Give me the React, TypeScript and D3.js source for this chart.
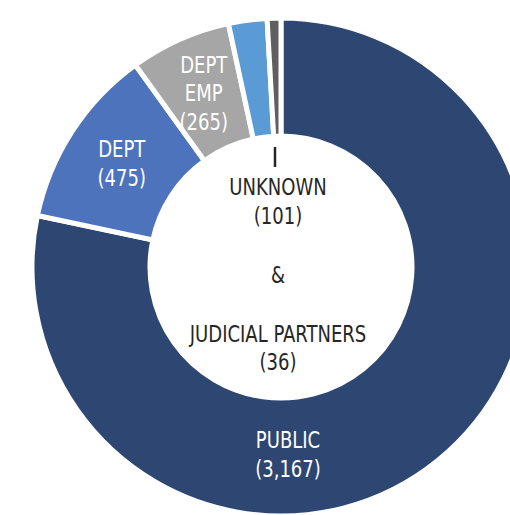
import React from "react";
import * as d3 from "d3";

const categories = ["PUBLIC", "DEPT", "DEPT EMP", "UNKNOWN", "JUDICIAL PARTNERS"];
const values = [3167, 475, 265, 101, 36];
const colors = ["#2E4772", "#4E73BD", "#A6A6A6", "#5B9BD5", "#5F5F5F"];

const W = 510;
const H = 515;
const cx = 281;
const cy = 267;
const outerR = 249;
const innerR = 131;
const labelR = 190;

const FONT = "'DejaVu Sans Condensed', 'DejaVu Sans', sans-serif";
const FS = 23.3;
const SX = 0.86;
const fmt = d3.format(",");

function Lines({ x, ys, lines, fill }: { x: number; ys: number[]; lines: string[]; fill: string }) {
  return (
    <g>
      {lines.map((t, k) => (
        <text
          key={k}
          transform={`translate(${x},${ys[k]}) scale(${SX},1)`}
          textAnchor="middle"
          fill={fill}
          fontSize={FS}
          fontStretch="condensed"
          fontFamily={FONT}
        >
          {t}
        </text>
      ))}
    </g>
  );
}

export default function App() {
  const pie = d3.pie<number>().sort(null).value((d) => d)(values);
  const arc = d3.arc<d3.PieArcDatum<number>>().innerRadius(innerR).outerRadius(outerR);
  const labelArc = d3.arc<d3.PieArcDatum<number>>().innerRadius(labelR).outerRadius(labelR);

  const lh = 28.5;
  const sliceLabel = (i: number, lines: string[]) => {
    const [x, y] = labelArc.centroid(pie[i]);
    const n = lines.length;
    const ys = lines.map((_, k) => y + lh * (k - (n - 1) / 2) + 8);
    return <Lines key={"l" + i} x={x} ys={ys} lines={lines} fill="#fff" />;
  };

  return (
    <svg width={W} height={H} style={{ position: "absolute", left: 0, top: 0 }}>
      <rect width={W} height={H} fill="#fff" />
      <g transform={`translate(${cx},${cy})`}>
        {pie.map((p, i) => (
          <path key={i} d={arc(p) || ""} fill={colors[i]} stroke="#fff" strokeWidth={5} strokeLinejoin="miter" />
        ))}
        {sliceLabel(1, [categories[1], `(${fmt(values[1])})`])}
        {sliceLabel(2, ["DEPT", "EMP", `(${fmt(values[2])})`])}
        <Lines x={7} ys={[181, 210]} lines={[categories[0], `(${fmt(values[0])})`]} fill="#fff" />
        <line x1={-6} x2={-6} y1={-120} y2={-100} stroke="#262626" strokeWidth={2.5} />
        <Lines
          x={-3}
          ys={[-72, -43, 16, 75, 103]}
          lines={[categories[3], `(${fmt(values[3])})`, "&", categories[4], `(${fmt(values[4])})`]}
          fill="#262626"
        />
      </g>
    </svg>
  );
}
